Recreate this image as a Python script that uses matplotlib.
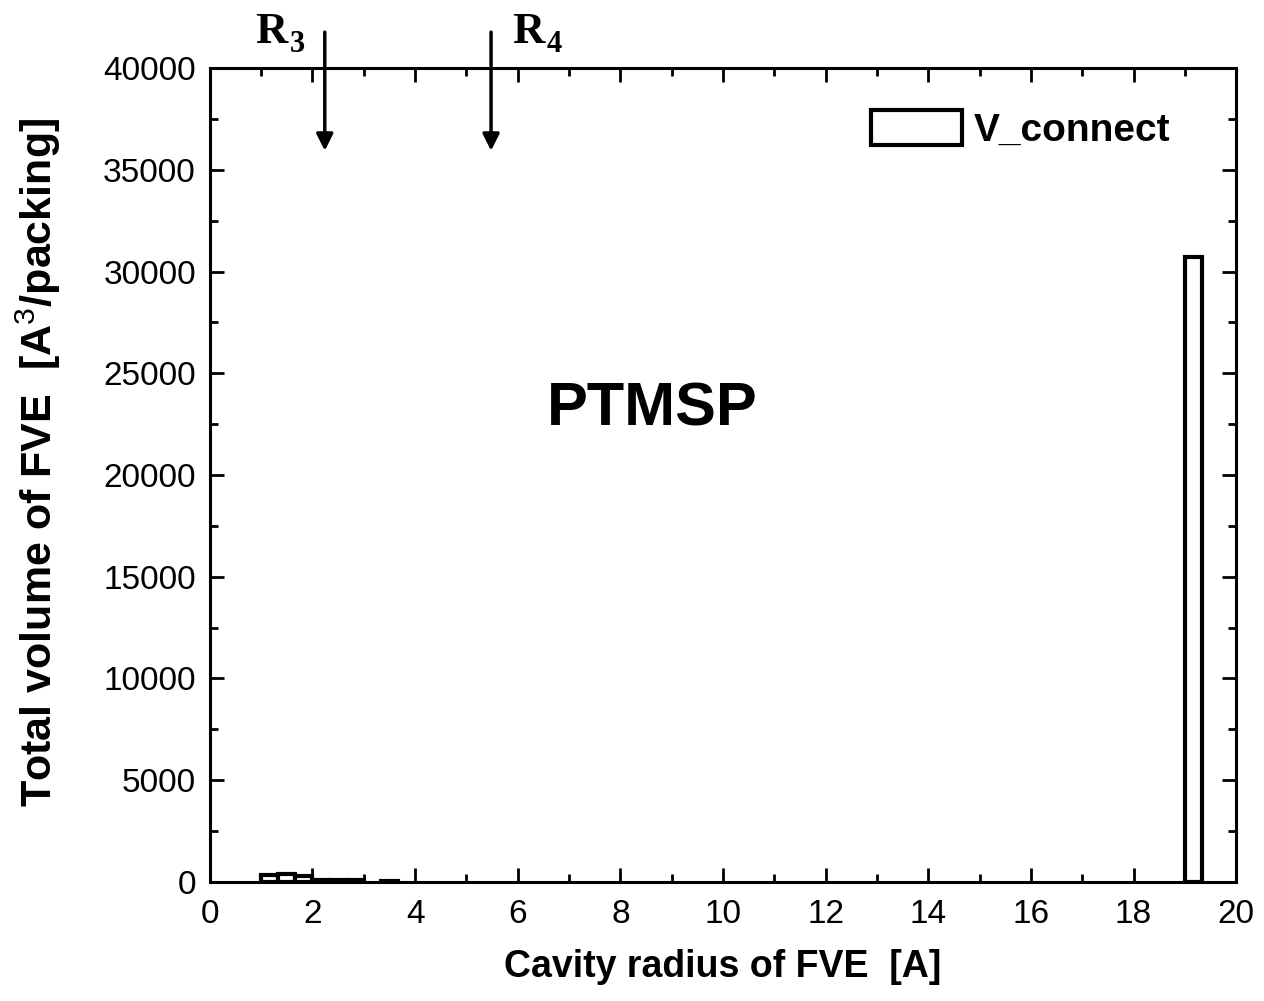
import matplotlib
matplotlib.use("Agg")
import matplotlib.pyplot as plt
from matplotlib.ticker import MultipleLocator

plt.rcParams['font.family'] = ['Liberation Sans', 'DejaVu Sans']
plt.rcParams['mathtext.fontset'] = 'custom'
plt.rcParams['mathtext.rm'] = 'Liberation Sans'
plt.rcParams['mathtext.bf'] = 'Liberation Sans:bold'

radius = [1.17, 1.50, 1.83, 2.17, 2.50, 2.83, 3.50, 19.17]
volume = [330, 380, 280, 110, 90, 70, 50, 30700]
bin_width = 0.33
series_label = "V_connect"
arrow_x = [2.24, 5.48]
arrow_names = ["R", "R"]
arrow_subs = ["3", "4"]

fig = plt.figure(figsize=(12.64, 10.01), dpi=100)
ax = fig.add_axes([0.166, 0.119, 0.812, 0.813])

ax.bar(radius, volume, width=bin_width, facecolor='white', edgecolor='black',
       linewidth=3, label=series_label)

ax.set_xlim(0, 20)
ax.set_ylim(0, 40000)
ax.xaxis.set_major_locator(MultipleLocator(2))
ax.xaxis.set_minor_locator(MultipleLocator(1))
ax.yaxis.set_major_locator(MultipleLocator(5000))
ax.yaxis.set_minor_locator(MultipleLocator(2500))
ax.tick_params(which='both', direction='in', top=True, right=True, width=2, labelsize=24)
ax.tick_params(axis='x', pad=12)
ax.tick_params(axis='y', pad=10)
ax.tick_params(which='major', length=10)
ax.tick_params(which='minor', length=6)
for s in ax.spines.values():
    s.set_linewidth(2.2)

ax.set_xlabel("Cavity radius of FVE  [A]", fontsize=27, fontweight='bold', labelpad=14)
ax.set_ylabel("Total volume of FVE  [A$^{3}$/packing]", fontsize=31, fontweight='bold')
ax.yaxis.set_label_coords(-0.143, 0.515)

ax.text(8.62, 23190, "PTMSP", fontsize=44, fontweight='bold', ha='center', va='center')

for x in arrow_x:
    ax.annotate("", xy=(x, 35800), xytext=(x, 41900),
                arrowprops=dict(arrowstyle='-|>', lw=2.5, color='black', mutation_scale=25),
                annotation_clip=False)

label_left_px = [255, 512]
for lx, name, sub in zip(label_left_px, arrow_names, arrow_subs):
    xd = (lx - 210) / 1026 * 20
    ax.text(xd, 41750, name, fontsize=32, fontweight='bold', family='Liberation Serif',
            ha='left', va='center')
    ax.annotate(sub, xy=(xd, 41750), xycoords='data', xytext=(25, -9), textcoords='offset points',
                fontsize=22, fontweight='bold', family='Liberation Serif', ha='left', va='center',
                annotation_clip=False)

leg = ax.legend(loc='upper right', bbox_to_anchor=(0.936, 0.948), frameon=False,
                prop={'weight': 'bold', 'size': 28},
                handlelength=2.35, handleheight=1.0, borderaxespad=0, borderpad=0,
                handletextpad=0.3)

fig.savefig("out.png", dpi=100)
